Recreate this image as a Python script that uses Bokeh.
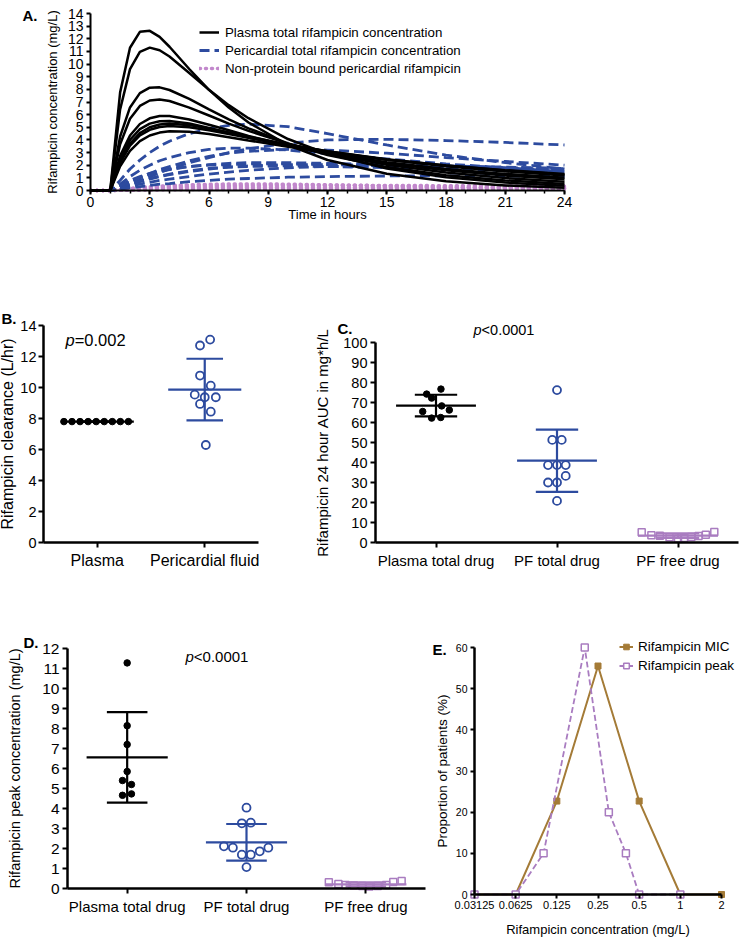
import numpy as np
from bokeh.plotting import figure
from bokeh.layouts import column, row
from bokeh.models import (Spacer, FixedTicker, SingleIntervalTicker, Label, Legend, LegendItem,
                          LinearAxis, LogAxis, Range1d)
from bokeh.embed import file_html
from bokeh.resources import INLINE

FONT = "Liberation Sans"
BLUE = "#2D4B9F"
PURPLE_DOT = "#C288CC"
PURPLE = "#A97CC0"
BROWN = "#A47B37"

# ---------------- Panel A data (mg/L) ----------------
hours = [0, 1, 1.5, 2, 2.5, 3, 3.5, 4, 5, 6, 7, 8, 10, 12, 15, 18, 21, 24]
plasma_1 = [0, 0, 7.76, 11.29, 12.55, 12.63, 12.15, 11.37, 9.61, 7.96, 6.56, 5.38, 3.60, 2.41, 1.33, 0.73, 0.40, 0.22]
plasma_2 = [0, 0, 6.42, 9.60, 10.96, 11.30, 11.09, 10.60, 9.29, 7.96, 6.75, 5.72, 4.07, 2.90, 1.74, 1.05, 0.63, 0.38]
plasma_3 = [0, 0, 4.27, 6.57, 7.70, 8.13, 8.16, 7.95, 7.24, 6.42, 5.62, 4.92, 3.72, 2.81, 1.85, 1.21, 0.80, 0.52]
plasma_4 = [0, 0, 3.66, 5.67, 6.69, 7.12, 7.20, 7.08, 6.56, 5.93, 5.29, 4.72, 3.71, 2.92, 2.04, 1.42, 0.99, 0.69]
plasma_5 = [0, 0, 2.74, 4.35, 5.26, 5.71, 5.89, 5.89, 5.62, 5.20, 4.76, 4.32, 3.55, 2.91, 2.16, 1.60, 1.18, 0.88]
plasma_6 = [0, 0, 2.52, 4.01, 4.85, 5.29, 5.48, 5.50, 5.30, 4.95, 4.57, 4.19, 3.51, 2.94, 2.24, 1.71, 1.31, 1.00]
plasma_7 = [0, 0, 2.29, 3.70, 4.54, 5.00, 5.22, 5.29, 5.17, 4.90, 4.58, 4.25, 3.64, 3.10, 2.44, 1.92, 1.51, 1.19]
plasma_8 = [0, 0, 2.19, 3.54, 4.35, 4.80, 5.02, 5.10, 5.01, 4.76, 4.47, 4.17, 3.61, 3.10, 2.48, 1.98, 1.58, 1.26]
plasma_9 = [0, 0, 1.92, 3.14, 3.90, 4.35, 4.58, 4.69, 4.65, 4.47, 4.22, 3.96, 3.46, 3.01, 2.44, 1.98, 1.61, 1.30]

peri_1 = [0, 0, 0.8, 1.7, 2.4, 3.0, 3.5, 3.9, 4.5, 4.9, 5.15, 5.25, 5.05, 4.5, 3.6, 2.8, 2.2, 1.7]
peri_2 = [0, 0, 0.2, 0.5, 0.8, 1.1, 1.4, 1.7, 2.2, 2.6, 3.0, 3.3, 3.75, 4.0, 4.05, 3.95, 3.8, 3.6]
peri_3 = [0, 0, 0.5, 1.1, 1.6, 2.0, 2.35, 2.6, 3.0, 3.25, 3.35, 3.35, 3.2, 2.9, 2.5, 2.1, 1.8, 1.5]
peri_4 = [0, 0, 0.3, 0.7, 1.0, 1.35, 1.65, 1.9, 2.35, 2.7, 2.95, 3.1, 3.25, 3.2, 2.95, 2.6, 2.3, 2.0]
peri_5 = [0, 0, 0.4, 0.8, 1.1, 1.35, 1.55, 1.7, 1.9, 2.0, 2.05, 2.1, 2.1, 2.05, 1.95, 1.85, 1.75, 1.65]
peri_6 = [0, 0, 0.2, 0.45, 0.7, 0.9, 1.1, 1.25, 1.5, 1.7, 1.85, 1.95, 2.05, 2.05, 2.0, 1.9, 1.8, 1.7]
peri_7 = [0, 0, 0.25, 0.5, 0.75, 0.95, 1.15, 1.3, 1.55, 1.75, 1.85, 1.9, 1.95, 1.9, 1.8, 1.7, 1.6, 1.5]
peri_8 = [0, 0, 0.15, 0.35, 0.5, 0.65, 0.8, 0.9, 1.1, 1.3, 1.45, 1.6, 1.8, 1.9, 1.9, 1.85, 1.75, 1.65]
peri_9 = [0, 0, 0.1, 0.2, 0.3, 0.4, 0.5, 0.55, 0.7, 0.8, 0.9, 0.95, 1.05, 1.1, 1.15, 1.15, 1.15, 1.1]
peri_10 = [0, 0, 0.35, 0.75, 1.05, 1.3, 1.5, 1.65, 1.9, 2.05, 2.15, 2.2, 2.2, 2.15, 2.05, 1.95, 1.85, 1.75]

free_1 = [0, 0, 0.08, 0.17, 0.24, 0.30, 0.35, 0.39, 0.45, 0.49, 0.51, 0.52, 0.50, 0.45, 0.36, 0.28, 0.22, 0.17]
free_2 = [0, 0, 0.05, 0.11, 0.16, 0.21, 0.25, 0.28, 0.33, 0.36, 0.38, 0.40, 0.42, 0.42, 0.40, 0.38, 0.36, 0.34]
free_3 = [0, 0, 0.04, 0.09, 0.13, 0.16, 0.19, 0.21, 0.24, 0.26, 0.27, 0.28, 0.28, 0.27, 0.26, 0.24, 0.23, 0.22]
free_4 = [0, 0, 0.02, 0.05, 0.07, 0.09, 0.11, 0.12, 0.15, 0.17, 0.18, 0.19, 0.20, 0.20, 0.19, 0.18, 0.17, 0.16]
free_5 = [0, 0, 0.01, 0.02, 0.03, 0.04, 0.05, 0.06, 0.07, 0.08, 0.09, 0.10, 0.11, 0.11, 0.12, 0.12, 0.12, 0.11]

# ---------------- Panel B data (L/hr) ----------------
b_categories = ["Plasma", "Pericardial fluid"]
b_plasma = [7.8, 7.8, 7.8, 7.8, 7.8, 7.8, 7.8, 7.8, 7.8]
b_plasma_jitter = [-0.31, -0.235, -0.16, -0.085, -0.01, 0.065, 0.14, 0.215, 0.29]
b_pf = [13.09, 12.71, 10.77, 10.12, 9.54, 9.37, 9.37, 8.94, 8.44, 6.29]
b_pf_jitter = [0.05, -0.044, -0.044, 0.056, -0.093, 0.0, 0.103, -0.044, 0.056, 0.01]

# ---------------- Panel C data (AUC mg*h/L) ----------------
cd_categories = ["Plasma total drug", "PF total drug", "PF free drug"]
c_plasma = [74.2, 76.7, 72.2, 68.3, 65.5, 66.2, 62.2, 62.5]
c_plasma_jitter = [-0.077, 0.041, -0.036, 0.047, -0.11, 0.11, -0.036, 0.039]
c_pf_total = [76.2, 51.3, 51.3, 38.7, 38.7, 38.7, 33.3, 30.0, 30.0, 20.8]
c_pf_total_jitter = [0.0, -0.039, 0.039, -0.074, 0.0, 0.072, 0.072, -0.074, 0.0, 0.0]
c_pf_free = [5.1, 3.6, 3.4, 2.6, 2.0, 2.3, 2.8, 3.3, 3.9, 5.3]
c_pf_free_jitter = [-0.30, -0.22, -0.15, -0.07, 0.0, 0.05, 0.11, 0.17, 0.23, 0.30]

# ---------------- Panel D data (peak mg/L) ----------------
d_plasma = [11.28, 8.14, 7.20, 5.85, 5.40, 5.20, 4.66, 4.73]
d_plasma_jitter = [0.0, 0.0, 0.0, 0.0, -0.039, 0.036, -0.039, 0.036]
d_pf_total = [4.04, 3.26, 3.29, 2.11, 2.04, 1.69, 1.69, 1.86, 2.04, 1.07]
d_pf_total_jitter = [0.0, -0.039, 0.036, -0.189, -0.114, -0.039, 0.036, 0.111, 0.183, 0.0]
d_pf_free = [0.31, 0.22, 0.18, 0.15, 0.12, 0.10, 0.13, 0.17, 0.33, 0.38]
d_pf_free_jitter = [-0.31, -0.23, -0.17, -0.10, -0.03, 0.03, 0.10, 0.17, 0.23, 0.30]

# ---------------- Panel E data ----------------
e_conc_levels = [0.03125, 0.0625, 0.125, 0.25, 0.5, 1, 2]
e_conc_labels = ["0.03125", "0.0625", "0.125", "0.25", "0.5", "1", "2"]
e_mic_pct = [0, 0, 22.7, 55.5, 22.7, 0, 0]
e_peak_conc = [0.03125, 0.0625, 0.1, 0.2, 0.3, 0.4, 0.5, 1]
e_peak_pct = [0, 0, 10, 60, 20, 10, 0, 0]


# ---------- helpers: each panel is one canvas whose frame fills it ----------
def make_panel(left, top, w, h, xa, ya, xlog=False):
    """xa / ya = (value0, page_px0, value1, page_px1) anchoring the scales to the page."""
    xv0, xp0, xv1, xp1 = xa
    yv0, yp0, yv1, yp1 = ya
    if xlog:
        def fx(px):
            return float(2 ** (np.log2(xv0) + (px - xp0) * (np.log2(xv1) - np.log2(xv0)) / (xp1 - xp0)))
    else:
        def fx(px):
            return xv0 + (px - xp0) * (xv1 - xv0) / (xp1 - xp0)

    def fy(py):
        return yv0 + (py - yp0) * (yv1 - yv0) / (yp1 - yp0)

    p = figure(width=w, height=h, x_range=Range1d(fx(left), fx(left + w)),
               y_range=Range1d(fy(top + h), fy(top)),
               x_axis_type="log" if xlog else "linear",
               x_axis_location=None, y_axis_location=None, min_border=0,
               output_backend="svg", toolbar_location=None)
    p.outline_line_color = None
    p.grid.visible = False
    p.background_fill_color = None
    p.border_fill_color = None
    return p, fx, fy


def add_axes(p, x_at, x_bounds, y_at, y_bounds, xlog=False):
    xax = (LogAxis if xlog else LinearAxis)(fixed_location=x_at, bounds=x_bounds)
    yax = LinearAxis(fixed_location=y_at, bounds=y_bounds)
    p.add_layout(xax, "below")
    p.add_layout(yax, "left")
    return xax, yax


def style_axis(ax, tick_size, label_size, line_w, tick_out, lab_standoff, axis_standoff):
    ax.axis_line_width = line_w
    ax.axis_line_color = "black"
    ax.major_tick_line_width = 2
    ax.major_tick_line_color = "black"
    ax.major_tick_out = tick_out
    ax.major_tick_in = 0
    ax.minor_tick_line_color = None
    ax.major_label_text_font = FONT
    ax.major_label_text_font_size = tick_size
    ax.major_label_text_color = "black"
    ax.axis_label_text_font = FONT
    ax.axis_label_text_font_size = label_size
    ax.axis_label_text_font_style = "normal"
    ax.axis_label_text_color = "black"
    ax.major_label_standoff = lab_standoff
    ax.axis_label_standoff = axis_standoff


def add_text(p, x, y, text, size="15px", style="bold", xoff=0):
    p.add_layout(Label(x=x, y=y, text=text, text_font=FONT, text_font_size=size,
                       text_font_style=style, text_baseline="middle", text_align="left",
                       x_offset=xoff, text_color="black"))


def add_pvalue(p, x, y, rest, size_px):
    add_text(p, x, y, "p", f"{size_px}px", "italic")
    add_text(p, x, y, rest, f"{size_px}px", "normal", xoff=round(0.556 * size_px, 1))


def dot_group(p, center, values, jitter, kind, half_mean=0.34, half_cap=0.17):
    vals = np.array(values, dtype=float)
    m = vals.mean()
    sd = vals.std(ddof=1)
    color = {"plasma": "black", "pf": BLUE, "free": PURPLE}[kind]
    p.segment(x0=[center - half_mean, center - half_cap, center - half_cap, center],
              y0=[m, m + sd, m - sd, m - sd],
              x1=[center + half_mean, center + half_cap, center + half_cap, center],
              y1=[m, m + sd, m - sd, m + sd],
              line_color=color, line_width=2.2)
    xs = center + np.array(jitter)
    if kind == "plasma":
        p.scatter(xs, vals, marker="circle", size=6.5, fill_color="black", line_color="black")
    elif kind == "pf":
        p.scatter(xs, vals, marker="circle", size=8, fill_color=None, line_color=BLUE, line_width=1.8)
    else:
        p.scatter(xs, vals, marker="square", size=7, fill_color=None, line_color=PURPLE, line_width=1.5)


# ================= Panel A =================
pA, ax_x, ax_y = make_panel(0, 0, 740, 228, (0, 90, 24, 564), (0, 190, 14, 13))
xa, ya = add_axes(pA, 0, (0, 24), 0, (0, 14))
style_axis(xa, "14px", "13px", 2.0, 4, 2, -3)
style_axis(ya, "14px", "13px", 2.0, 4, 3, 5)
xa.ticker = SingleIntervalTicker(interval=3, num_minor_ticks=3)
xa.minor_tick_line_color = "black"
xa.minor_tick_line_width = 1.5
xa.minor_tick_out = 3
xa.minor_tick_in = 0
ya.ticker = SingleIntervalTicker(interval=1, num_minor_ticks=0)
xa.axis_label = "Time in hours"
ya.axis_label = "Rifampicin concentration (mg/L)"

free_sets = [free_1, free_2, free_3, free_4, free_5]
peri_sets = [peri_1, peri_2, peri_3, peri_4, peri_5, peri_6, peri_7, peri_8, peri_9, peri_10]
plasma_sets = [plasma_1, plasma_2, plasma_3, plasma_4, plasma_5, plasma_6, plasma_7, plasma_8, plasma_9]

r_free = pA.multi_line(xs=[hours] * len(free_sets), ys=free_sets, line_color=PURPLE_DOT,
                       line_width=3.5, line_dash="1 5", line_cap="round")
r_peri = pA.multi_line(xs=[hours] * len(peri_sets), ys=peri_sets, line_color=BLUE,
                       line_width=2.8, line_dash="10 5")
r_plasma = pA.multi_line(xs=[hours] * len(plasma_sets), ys=plasma_sets, line_color="black",
                         line_width=2.5)
legA = Legend(items=[LegendItem(label="Plasma total rifampicin concentration", renderers=[r_plasma]),
                     LegendItem(label="Pericardial total rifampicin concentration", renderers=[r_peri]),
                     LegendItem(label="Non-protein bound pericardial rifampicin", renderers=[r_free])],
              location=(199, 152))
legA.background_fill_alpha = 0
legA.border_line_color = None
legA.padding = 0
legA.margin = 0
legA.spacing = 2
legA.glyph_width = 20
legA.glyph_height = 16
legA.label_height = 16
legA.label_standoff = 6
legA.label_text_font = FONT
legA.label_text_font_size = "13.3px"
legA.label_text_color = "black"
pA.add_layout(legA)
add_text(pA, ax_x(22), ax_y(15), "A.")

# ================= Panel B =================
pB, bx, by = make_panel(0, 305, 312, 270, (0.5, 43, 2.5, 258), (0, 542, 14, 325))
xb, yb = add_axes(pB, 0, (0.5, 2.5), 0.5, (0, 14))
style_axis(xb, "16px", "16px", 2.5, 5, 4, 4)
style_axis(yb, "14.5px", "16px", 2.5, 5, 2, 1)
xb.ticker = FixedTicker(ticks=[1, 2])
xb.major_label_overrides = {1: b_categories[0], 2: b_categories[1]}
yb.ticker = SingleIntervalTicker(interval=2, num_minor_ticks=0)
yb.axis_label = "Rifampicin clearance (L/hr)"
dot_group(pB, 1, b_plasma, b_plasma_jitter, "plasma")
dot_group(pB, 2, b_pf, b_pf_jitter, "pf")
add_text(pB, bx(1), by(318), "B.")
add_pvalue(pB, bx(65), by(339.5), "=0.002", 16.5)

# ================= Panel C =================
pC, cx, cy = make_panel(312, 305, 428, 270, (0.5, 375, 3.5, 738), (0, 542, 100, 342))
xc, yc = add_axes(pC, 0, (0.5, 3.5), 0.5, (0, 100))
style_axis(xc, "15px", "15px", 2.5, 5, 4, 4)
style_axis(yc, "14.5px", "15px", 2.5, 5, 3, 9)
xc.ticker = FixedTicker(ticks=[1, 2, 3])
xc.major_label_overrides = {1: cd_categories[0], 2: cd_categories[1], 3: cd_categories[2]}
yc.ticker = SingleIntervalTicker(interval=10, num_minor_ticks=0)
yc.axis_label = "Rifampicin 24 hour AUC in mg*h/L"
dot_group(pC, 1, c_plasma, c_plasma_jitter, "plasma", 0.33, 0.175)
dot_group(pC, 2, c_pf_total, c_pf_total_jitter, "pf", 0.33, 0.175)
dot_group(pC, 3, c_pf_free, c_pf_free_jitter, "free", 0.33, 0.175)
add_text(pC, cx(337), cy(328), "C.")
add_pvalue(pC, cx(473), cy(329), "<0.0001", 14.5)

# ================= Panel D =================
pD, dx, dy = make_panel(0, 630, 432, 308, (0.5, 67, 3.5, 425), (0, 888, 12, 648))
xd, yd = add_axes(pD, 0, (0.5, 3.5), 0.5, (0, 12))
style_axis(xd, "15px", "15px", 2.5, 5, 4, 4)
style_axis(yd, "15.5px", "14.5px", 2.5, 5, 3, 16)
xd.ticker = FixedTicker(ticks=[1, 2, 3])
xd.major_label_overrides = {1: cd_categories[0], 2: cd_categories[1], 3: cd_categories[2]}
yd.ticker = SingleIntervalTicker(interval=1, num_minor_ticks=0)
yd.axis_label = "Rifampicin peak concentration (mg/L)"
dot_group(pD, 1, d_plasma, d_plasma_jitter, "plasma")
dot_group(pD, 2, d_pf_total, d_pf_total_jitter, "pf")
dot_group(pD, 3, d_pf_free, d_pf_free_jitter, "free")
add_text(pD, dx(23), dy(642), "D.")
add_pvalue(pD, dx(185), dy(656), "<0.0001", 15)

# ================= Panel E =================
pE, ex, ey = make_panel(432, 630, 308, 308, (0.03125, 474, 2, 721), (0, 894, 60, 647), xlog=True)
xe, ye = add_axes(pE, 0, (0.03125, 2), 0.03125, (0, 60), xlog=True)
style_axis(xe, "11px", "13px", 2.5, 4, 2, 10)
style_axis(ye, "10.5px", "13.5px", 2.5, 4, 3, 3)
xe.ticker = FixedTicker(ticks=e_conc_levels, minor_ticks=[])
xe.major_label_overrides = {float(v): s for v, s in zip(e_conc_levels, e_conc_labels)}
ye.ticker = SingleIntervalTicker(interval=10, num_minor_ticks=0)
xe.axis_label = "Rifampicin concentration (mg/L)"
ye.axis_label = "Proportion of patients (%)"
r_mic_l = pE.line(e_conc_levels, e_mic_pct, line_color=BROWN, line_width=2)
r_mic_s = pE.scatter(e_conc_levels, e_mic_pct, marker="square", size=6, fill_color=BROWN, line_color=BROWN)
r_pk_l = pE.line(e_peak_conc, e_peak_pct, line_color=PURPLE, line_width=1.8, line_dash="6 3")
r_pk_s = pE.scatter(e_peak_conc, e_peak_pct, marker="square", size=7, fill_color="white",
                    line_color=PURPLE, line_width=1.5)
legE = Legend(items=[LegendItem(label="Rifampicin MIC", renderers=[r_mic_l, r_mic_s]),
                     LegendItem(label="Rifampicin peak", renderers=[r_pk_l, r_pk_s])],
              location=(187, 264))
legE.background_fill_alpha = 0
legE.border_line_color = None
legE.padding = 0
legE.margin = 0
legE.spacing = 2
legE.glyph_width = 14
legE.glyph_height = 17
legE.label_height = 17
legE.label_standoff = 5
legE.label_text_font = FONT
legE.label_text_font_size = "13.5px"
legE.label_text_color = "black"
pE.add_layout(legE)
add_text(pE, ex(432), ey(649), "E.")

layout = column(pA, Spacer(height=77), row(pB, pC), Spacer(height=55), row(pD, pE))

open("out.html", "w").write(file_html(layout, INLINE))
